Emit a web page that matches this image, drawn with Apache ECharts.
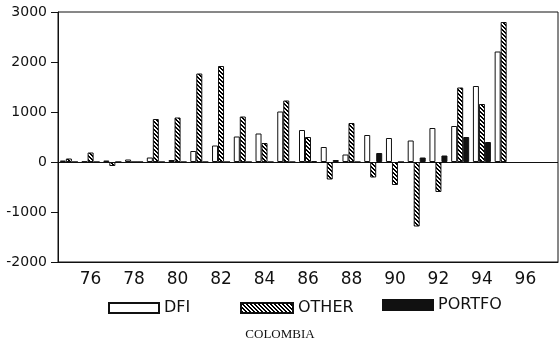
<!DOCTYPE html>
<html>
<head>
<meta charset="utf-8">
<script src="https://cdn.jsdelivr.net/npm/echarts@6/dist/echarts.min.js"></script>
<style>
  html, body { margin: 0; padding: 0; background: #fff; }
  #chart { width: 560px; height: 348px; }
</style>
</head>
<body>
<div id="chart"></div>
<script>
// Colombia: capital flows by type, 1975-1997
const years = ['75','76','77','78','79','80','81','82','83','84','85','86',
               '87','88','89','90','91','92','93','94','95','96','97'];
const dfi = [30, 10, 30, 50, 90, 40, 220, 330, 510, 570, 1010, 640,
             300, 150, 540, 480, 430, 680, 720, 1520, 2210, null, null];
const other = [70, 190, -80, 0, 860, 890, 1770, 1920, 910, 380, 1230, 500,
               -350, 780, -310, -460, -1290, -600, 1490, 1160, 2800, null, null];
const portfo = [0, 0, 0, 0, 0, 0, 0, 0, 0, 0, 0, 20,
                40, 0, 180, 0, 90, 130, 500, 400, -20, null, null];
const yTicks = { min: -2000, max: 3000, step: 1000 };
const seriesNames = ['DFI', 'OTHER', 'PORTFO'];

// diagonal hatch tile for the OTHER bars
function hatchTile() {
  const c = document.createElement('canvas');
  c.width = 4; c.height = 4;
  const ctx = c.getContext('2d');
  const img = ctx.createImageData(4, 4);
  for (let y = 0; y < 4; y++) {
    for (let x = 0; x < 4; x++) {
      const d = (((x - y) % 4) + 4) % 4;
      const v = (d === 0 || d === 1) ? 0 : 255;
      const i = (y * 4 + x) * 4;
      img.data[i] = v; img.data[i + 1] = v; img.data[i + 2] = v; img.data[i + 3] = 255;
    }
  }
  ctx.putImageData(img, 0, 0);
  return c;
}

const chart = echarts.init(document.getElementById('chart'), null, { renderer: 'canvas' });
const sans = 'DejaVu Sans';

const legendBase = {
  orient: 'horizontal', padding: 0, itemHeight: 10, itemGap: 0,
  icon: 'rect', selectedMode: false,
  textStyle: { fontFamily: sans, fontSize: 16, color: '#111' }
};

chart.setOption({
  animation: false,
  backgroundColor: '#fff',
  title: {
    text: 'COLOMBIA', left: 'center', top: 328, padding: 0,
    textStyle: { fontFamily: 'Liberation Serif', fontSize: 13, fontWeight: 'normal', color: '#111' }
  },
  legend: [
    Object.assign({}, legendBase, { left: 108, top: 300, itemWidth: 50, data: [seriesNames[0]] }),
    Object.assign({}, legendBase, { left: 240, top: 300, itemWidth: 52, data: [seriesNames[1]] }),
    Object.assign({}, legendBase, { left: 382, top: 297, itemWidth: 50, data: [seriesNames[2]] })
  ],
  grid: {
    left: 58, right: 2, top: 12, height: 250,
    show: true, borderColor: '#111', borderWidth: 1, backgroundColor: 'transparent'
  },
  xAxis: {
    type: 'category', data: years, boundaryGap: true,
    axisLine: { onZero: false, lineStyle: { color: '#111', width: 1 } },
    axisTick: { alignWithLabel: true, interval: 0, inside: true, length: 4, lineStyle: { color: '#111' } },
    axisLabel: {
      interval: (i) => i % 2 === 1, margin: 9,
      fontFamily: sans, fontSize: 17, color: '#111'
    },
    splitLine: { show: false }
  },
  yAxis: {
    type: 'value', min: yTicks.min, max: yTicks.max, interval: yTicks.step,
    axisLine: { show: true, lineStyle: { color: '#111', width: 1 } },
    axisTick: { show: true, length: 7, lineStyle: { color: '#111' } },
    axisLabel: {
      margin: 11, fontFamily: sans, fontSize: 14, color: '#111',
      formatter: (v) => String(v)
    },
    splitLine: { show: false }
  },
  series: [
    {
      name: seriesNames[0], type: 'bar', data: dfi, barWidth: 6, barGap: '0%',
      itemStyle: { color: '#fff', borderColor: '#111', borderWidth: 1 },
      markLine: {
        silent: true, symbol: 'none', label: { show: false },
        lineStyle: { color: '#111', width: 1, type: 'solid' },
        data: [{ yAxis: 0 }]
      }
    },
    {
      name: seriesNames[1], type: 'bar', data: other, barWidth: 6, barGap: '0%',
      itemStyle: { color: { image: hatchTile(), repeat: 'repeat' }, borderColor: '#111', borderWidth: 1 }
    },
    {
      name: seriesNames[2], type: 'bar', data: portfo, barWidth: 6, barGap: '0%',
      itemStyle: { color: '#111', borderColor: '#111', borderWidth: 1 }
    }
  ]
});
</script>
</body>
</html>
